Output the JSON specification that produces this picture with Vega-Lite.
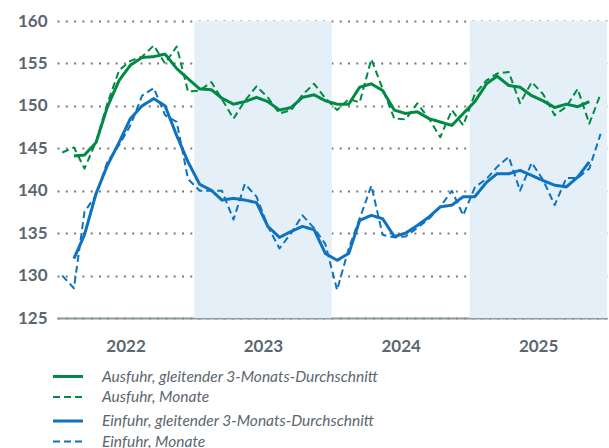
{
"$schema":"https://vega.github.io/schema/vega-lite/v6.json",
"width":550,"height":297,
"autosize":{"type":"none"},
"padding":{"left":57,"top":21,"right":2,"bottom":130},
"config":{"view":{"stroke":null},"font":"Lato",
 "axis":{"labelFont":"Lato","labelFontWeight":"bold","labelFontSize":17,"labelColor":"#5b6670","title":null,"ticks":false,"grid":false,"domain":false,"zindex":1},
 "axisY":{"grid":true,"gridDash":[2,6.3],"gridColor":"#737b81","gridWidth":1.8,"labelPadding":10},
 "axisX":{"domain":true,"domainColor":"#8e979d","domainWidth":2,"labelPadding":20,"format":"%Y","formatType":"utc"},
 "legend":{"symbolType":"M-2,0H2","symbolSize":225,"symbolStrokeWidth":3,"labelFont":"Lato","labelFontStyle":"italic","labelFontSize":15.5,"labelColor":"#5b6670","labelOffset":25,"labelLimit":400,"rowPadding":3,"padding":0}
},
"datasets":{"trade":[
{"d":"2022-01-15","am":144.5,"aa":null,"em":130.0,"ea":null},
{"d":"2022-02-15","am":145.1,"aa":144.1,"em":128.5,"ea":132.0},
{"d":"2022-03-15","am":142.6,"aa":144.2,"em":137.5,"ea":134.8},
{"d":"2022-04-15","am":145.8,"aa":145.7,"em":139.5,"ea":139.7},
{"d":"2022-05-15","am":150.3,"aa":149.9,"em":143.4,"ea":143.0},
{"d":"2022-06-15","am":154.2,"aa":153.0,"em":145.4,"ea":145.7},
{"d":"2022-07-15","am":155.3,"aa":154.8,"em":147.7,"ea":148.5},
{"d":"2022-08-15","am":155.8,"aa":155.7,"em":151.2,"ea":150.0},
{"d":"2022-09-15","am":157.1,"aa":155.8,"em":152.1,"ea":150.85},
{"d":"2022-10-15","am":155.0,"aa":156.1,"em":148.9,"ea":150.0},
{"d":"2022-11-15","am":157.0,"aa":154.4,"em":148.1,"ea":146.5},
{"d":"2022-12-15","am":151.7,"aa":153.2,"em":141.4,"ea":143.4},
{"d":"2023-01-15","am":151.8,"aa":152.0,"em":140.0,"ea":140.75},
{"d":"2023-02-15","am":152.8,"aa":151.9,"em":140.0,"ea":140.05},
{"d":"2023-03-15","am":150.8,"aa":150.9,"em":140.0,"ea":138.9},
{"d":"2023-04-15","am":148.5,"aa":150.2,"em":136.6,"ea":139.1},
{"d":"2023-05-15","am":150.6,"aa":150.5,"em":140.8,"ea":138.9},
{"d":"2023-06-15","am":152.3,"aa":151.0,"em":139.3,"ea":138.6},
{"d":"2023-07-15","am":151.0,"aa":150.5,"em":135.8,"ea":135.8},
{"d":"2023-08-15","am":149.1,"aa":149.5,"em":133.2,"ea":134.5},
{"d":"2023-09-15","am":149.5,"aa":149.8,"em":135.0,"ea":135.2},
{"d":"2023-10-15","am":151.3,"aa":151.0,"em":137.1,"ea":135.8},
{"d":"2023-11-15","am":152.6,"aa":151.3,"em":135.6,"ea":135.4},
{"d":"2023-12-15","am":150.9,"aa":150.6,"em":133.7,"ea":132.6},
{"d":"2024-01-15","am":149.5,"aa":150.2,"em":128.3,"ea":131.8},
{"d":"2024-02-15","am":150.8,"aa":150.2,"em":133.2,"ea":132.6},
{"d":"2024-03-15","am":150.4,"aa":152.2,"em":136.7,"ea":136.5},
{"d":"2024-04-15","am":155.5,"aa":152.6,"em":140.6,"ea":137.1},
{"d":"2024-05-15","am":152.0,"aa":151.8,"em":134.8,"ea":136.7},
{"d":"2024-06-15","am":148.5,"aa":149.5,"em":134.5,"ea":134.6},
{"d":"2024-07-15","am":148.4,"aa":149.1,"em":134.6,"ea":135.0},
{"d":"2024-08-15","am":150.3,"aa":149.3,"em":135.6,"ea":135.9},
{"d":"2024-09-15","am":148.5,"aa":148.5,"em":136.7,"ea":136.9},
{"d":"2024-10-15","am":146.3,"aa":148.1,"em":138.1,"ea":138.1},
{"d":"2024-11-15","am":149.5,"aa":147.7,"em":140.0,"ea":138.3},
{"d":"2024-12-15","am":147.7,"aa":149.1,"em":137.1,"ea":139.3},
{"d":"2025-01-15","am":151.4,"aa":150.5,"em":140.4,"ea":139.3},
{"d":"2025-02-15","am":153.0,"aa":152.6,"em":141.4,"ea":141.0},
{"d":"2025-03-15","am":153.8,"aa":153.5,"em":142.8,"ea":142.0},
{"d":"2025-04-15","am":154.0,"aa":152.4,"em":144.0,"ea":142.0},
{"d":"2025-05-15","am":150.3,"aa":152.2,"em":140.0,"ea":142.4},
{"d":"2025-06-15","am":152.8,"aa":151.2,"em":143.3,"ea":141.8},
{"d":"2025-07-15","am":151.4,"aa":150.6,"em":141.3,"ea":141.2},
{"d":"2025-08-15","am":148.9,"aa":149.8,"em":138.3,"ea":140.65},
{"d":"2025-09-15","am":149.9,"aa":150.2,"em":141.5,"ea":140.45},
{"d":"2025-10-15","am":152.0,"aa":149.9,"em":141.5,"ea":141.6},
{"d":"2025-11-15","am":147.9,"aa":150.5,"em":142.6,"ea":143.4},
{"d":"2025-12-15","am":151.4,"aa":null,"em":146.7,"ea":null}
]},
"layer":[
{"data":{"values":[{"start":"2023-01-01","end":"2024-01-01"},{"start":"2025-01-01","end":"2026-01-01"}]},
 "mark":{"type":"rect","color":"#e4eff7"},
 "encoding":{
  "x":{"field":"start","type":"temporal","scale":{"type":"utc","domain":[{"year":2022,"month":1,"date":1,"utc":true},{"year":2026,"month":1,"date":1,"utc":true}]},
   "axis":{"values":[{"year":2022,"month":7,"date":2,"utc":true},{"year":2023,"month":7,"date":2,"utc":true},{"year":2024,"month":7,"date":2,"utc":true},{"year":2025,"month":7,"date":2,"utc":true}],"format":"%Y","formatType":"utc"}},
  "x2":{"field":"end"}}},
{"data":{"name":"trade"},
 "transform":[{"fold":["am","aa"],"as":["s","v"]}],
 "mark":{"type":"line","strokeJoin":"round"},
 "encoding":{
  "x":{"field":"d","type":"temporal","axis":{"values":[{"year":2022,"month":7,"date":2,"utc":true},{"year":2023,"month":7,"date":2,"utc":true},{"year":2024,"month":7,"date":2,"utc":true},{"year":2025,"month":7,"date":2,"utc":true}],"format":"%Y","formatType":"utc"}},
  "y":{"field":"v","type":"quantitative","scale":{"domain":[125,160],"nice":false,"zero":false},"axis":{"values":[125,130,135,140,145,150,155,160]}},
  "color":{"field":"s","type":"nominal","scale":{"domain":["aa","am"],"range":["#008a44","#008a44"]},
   "legend":{"title":null,"orient":"none","legendX":2,"legendY":346.5,"labelExpr":"datum.label == 'aa' ? 'Ausfuhr, gleitender 3-Monats-Durchschnitt' : 'Ausfuhr, Monate'"}},
  "strokeDash":{"field":"s","type":"nominal","scale":{"domain":["aa","am"],"range":[[1,0],[7,4]]},
   "legend":{"title":null,"orient":"none","legendX":2,"legendY":346.5,"labelExpr":"datum.label == 'aa' ? 'Ausfuhr, gleitender 3-Monats-Durchschnitt' : 'Ausfuhr, Monate'"}},
  "strokeWidth":{"field":"s","type":"nominal","scale":{"domain":["aa","am"],"range":[3,2]},"legend":null}
 }},
{"data":{"name":"trade"},
 "transform":[{"fold":["em","ea"],"as":["s","v"]}],
 "mark":{"type":"line","strokeJoin":"round"},
 "encoding":{
  "x":{"field":"d","type":"temporal","axis":{"values":[{"year":2022,"month":7,"date":2,"utc":true},{"year":2023,"month":7,"date":2,"utc":true},{"year":2024,"month":7,"date":2,"utc":true},{"year":2025,"month":7,"date":2,"utc":true}],"format":"%Y","formatType":"utc"}},
  "y":{"field":"v","type":"quantitative","axis":{"values":[125,130,135,140,145,150,155,160]}},
  "color":{"field":"s","type":"nominal","scale":{"domain":["ea","em"],"range":["#0f72be","#0f72be"]},
   "legend":{"title":null,"orient":"none","legendX":2,"legendY":391,"labelExpr":"datum.label == 'ea' ? 'Einfuhr, gleitender 3-Monats-Durchschnitt' : 'Einfuhr, Monate'"}},
  "strokeDash":{"field":"s","type":"nominal","scale":{"domain":["ea","em"],"range":[[1,0],[7,4]]},
   "legend":{"title":null,"orient":"none","legendX":2,"legendY":391,"labelExpr":"datum.label == 'ea' ? 'Einfuhr, gleitender 3-Monats-Durchschnitt' : 'Einfuhr, Monate'"}},
  "strokeWidth":{"field":"s","type":"nominal","scale":{"domain":["ea","em"],"range":[3,2]},"legend":null}
 }}
],
"resolve":{"scale":{"color":"independent","strokeDash":"independent","strokeWidth":"independent"}}
}
